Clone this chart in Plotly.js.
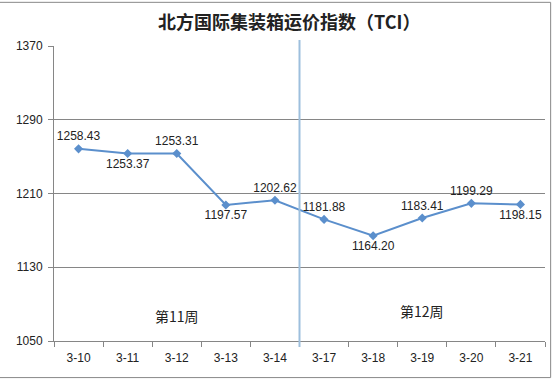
<!DOCTYPE html>
<html><head><meta charset="utf-8">
<script src="https://cdn.plot.ly/plotly-3.0.1.min.js"></script>
<style>html,body{margin:0;padding:0;background:#fff}#c{width:554px;height:380px}</style>
</head><body><div id="c"></div>
<script>
const dates = ["3-10","3-11","3-12","3-13","3-14","3-17","3-18","3-19","3-20","3-21"];
const tci = [1258.43,1253.37,1253.31,1197.57,1202.62,1181.88,1164.20,1183.41,1199.29,1198.15];
const labelPos = ["top center","bottom center","top center","bottom center","top center","top center","bottom center","top center","top center","bottom center"];
const yTicks = [1050,1130,1210,1290,1370];
const weeks = ["第11周","第12周"];

const font = '"Liberation Sans","Noto Sans CJK SC",sans-serif';
const trace = {
  x: dates, y: tci, type: 'scatter', mode: 'lines+markers+text',
  text: tci.map(v => v.toFixed(2)), textposition: labelPos,
  textfont: {family: font, size: 12, color: '#222'},
  line: {color: '#5B8FCC', width: 2},
  marker: {symbol: 'diamond', size: 7, color: '#5B8FCC'},
  cliponaxis: false, hoverinfo: 'none'
};
const layout = {
  width: 554, height: 380,
  margin: {l: 54, r: 9, t: 46, b: 39},
  paper_bgcolor: '#fff', plot_bgcolor: '#fff',
  showlegend: false,
  title: {text: '<b>北方国际集装箱运价指数（TCI）</b>', x: 0.522, xanchor: 'center', y: 0.94, yanchor: 'middle',
          font: {family: '"Noto Sans CJK SC",sans-serif', size: 18, color: '#222'}},
  xaxis: {type: 'category', tickson: 'boundaries', ticks: 'outside', ticklen: 5, tickcolor: '#868686',
          showline: true, linecolor: '#868686', showgrid: false, zeroline: false, ticklabelstandoff: 6,
          tickfont: {family: font, size: 12, color: '#222'}, range: [-0.5, 9.5], fixedrange: true},
  yaxis: {range: [1050, 1370], tickvals: yTicks, ticks: 'outside', ticklen: 5, tickcolor: '#868686',
          showline: true, linecolor: '#868686', showgrid: true, gridcolor: '#868686', gridwidth: 1,
          zeroline: false, ticklabelstandoff: 3, tickfont: {family: font, size: 12, color: '#222'}},
  shapes: [
    {type: 'line', xref: 'x', yref: 'paper', x0: 4.5, x1: 4.5, y0: -0.02, y1: 1.02,
     line: {color: '#9DBFDD', width: 2}},
    {type: 'rect', xref: 'paper', yref: 'paper', x0: -0.176, x1: 1.0115, y0: -0.124, y1: 1.148,
     line: {color: '#888', width: 1}}
  ],
  annotations: [
    {x: 2, y: 1077, xref: 'x', yref: 'y', text: weeks[0], showarrow: false,
     font: {family: '"Noto Sans CJK SC",sans-serif', size: 14, color: '#222'}},
    {x: 7, y: 1083, xref: 'x', yref: 'y', text: weeks[1], showarrow: false,
     font: {family: '"Noto Sans CJK SC",sans-serif', size: 14, color: '#222'}}
  ]
};
Plotly.newPlot('c', [trace], layout, {staticPlot: true});
</script></body></html>
